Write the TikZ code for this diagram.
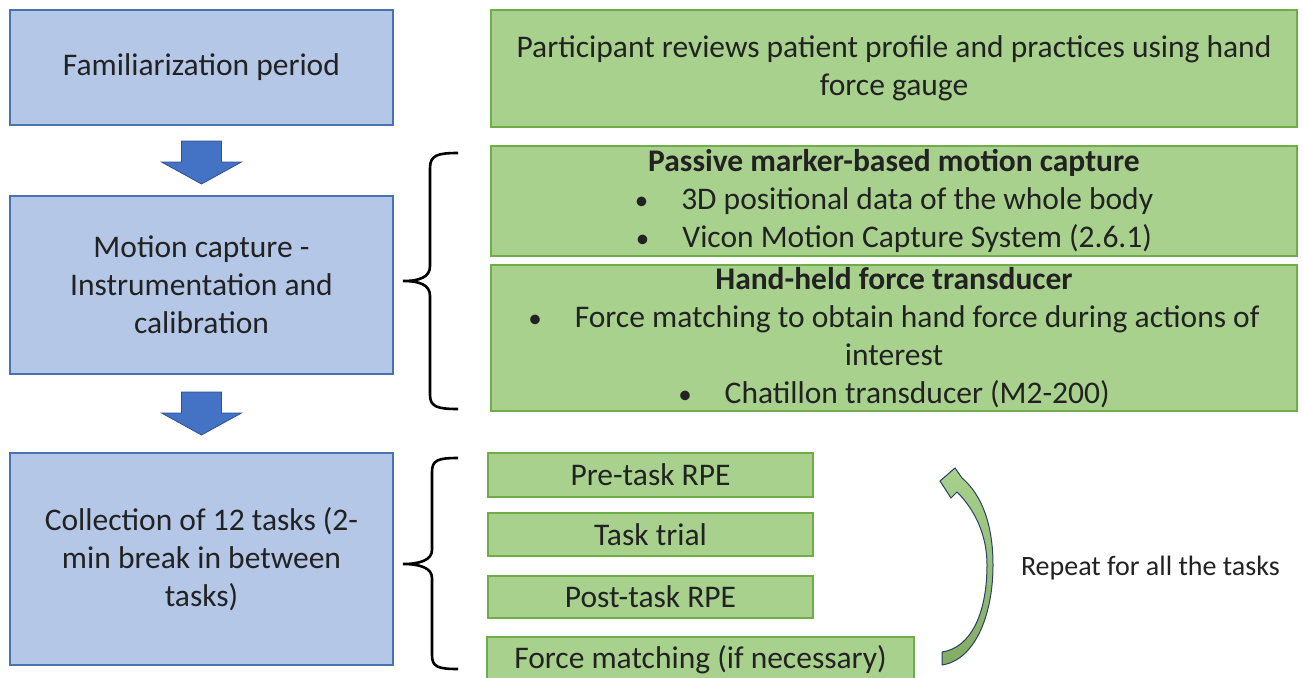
\documentclass[tikz,border=0pt]{standalone}
\usepackage{fontspec}
\setmainfont{Carlito}
\usetikzlibrary{calc}
\definecolor{bluefill}{HTML}{B4C7E7}
\definecolor{blueline}{HTML}{4A72B0}
\definecolor{arrowblue}{HTML}{4472C4}
\definecolor{arrowline}{HTML}{2F528F}
\definecolor{greenfill}{HTML}{A9D18E}
\definecolor{greenline}{HTML}{71AD47}
\definecolor{greendark}{HTML}{82AB64}
\definecolor{curveline}{HTML}{2B3F66}
\definecolor{txt}{HTML}{222222}
\newcommand{\smbul}{{\fontsize{27}{27}\selectfont\textbullet}}
\begin{document}
\begin{tikzpicture}[x=1pt,y=-1pt,
  every node/.style={inner sep=0pt, outer sep=0pt, text=txt},
  bluebox/.style={draw=blueline, fill=bluefill, line width=1.2pt, minimum width=383pt, align=center, font=\fontsize{31.5}{38}\selectfont},
  greenbox/.style={draw=greenline, fill=greenfill, line width=1.2pt, align=center, font=\fontsize{31.5}{38}\selectfont},
  taskbox/.style={greenbox, font=\fontsize{31.5}{36}\selectfont},
  blockarrow/.style={fill=arrowblue, draw=arrowline, line width=0.8pt, line join=miter},
  bracepath/.style={draw=black, line width=2.6pt},
  curvearrow/.style={draw=curveline, line width=1pt, top color=greenfill, bottom color=greendark}
]
\useasboundingbox (0,0) rectangle (1303,677);

% left column
\node[bluebox, minimum height=115pt] (b1) at (201.5,67.5) {Familiarization period};
\node[bluebox, minimum height=178pt] (b2) at (201.5,285) {Motion capture -\\Instrumentation and\\calibration};
\node[bluebox, minimum height=212pt] (b3) at (201.5,559) {Collection of 12 tasks (2-\\min break in between\\tasks)};

% block arrows
\draw[blockarrow] ($(b1.south)+(-20,16)$) -- ++(0,21) -- ++(-20,0) -- ++(40,22) -- ++(40,-22) -- ++(-20,0) -- ++(0,-21) -- cycle;
\draw[blockarrow] ($(b2.south)+(-20,18)$) -- ++(0,21) -- ++(-20,0) -- ++(40,22) -- ++(40,-22) -- ++(-20,0) -- ++(0,-21) -- cycle;

% right column
\node[greenbox, minimum width=806pt, minimum height=117pt] (g1) at (894,68.5) {Participant reviews patient profile and practices using hand\\force gauge};
\node[greenbox, minimum width=806pt, minimum height=110pt] (g2) at (894,201) {\textbf{Passive marker-based motion capture}\\\smbul\hspace{33pt}3D positional data of the whole body\\\smbul\hspace{33pt}Vicon Motion Capture System (2.6.1)};
\node[greenbox, minimum width=806pt, minimum height=146pt] (g3) at (894,338) {\textbf{Hand-held force transducer}\\\smbul\hspace{33pt}Force matching to obtain hand force during actions of\\interest\\\smbul\hspace{33pt}Chatillon transducer (M2-200)};

% task boxes
\node[taskbox, minimum width=325pt, minimum height=44pt] (s1) at (650.5,475) {Pre-task RPE};
\node[taskbox, minimum width=325pt, minimum height=43pt] (s2) at (650.5,534.5) {Task trial};
\node[taskbox, minimum width=325pt, minimum height=42pt] (s3) at (650.5,597) {Post-task RPE};
\node[taskbox, minimum width=427pt, minimum height=46pt, anchor=north west] (s4) at (487,637) {Force matching (if necessary)};

% braces
\draw[bracepath] (458,153) .. controls (438,153) and (430,155) .. (430,168) -- (430,266) .. controls (430,277) and (420,281) .. (403,281) .. controls (420,281) and (430,285) .. (430,296) -- (430,395) .. controls (430,407) and (438,409) .. (458,409);
\draw[bracepath] (458,458) .. controls (438,458) and (432,460) .. (432,472) -- (432,550) .. controls (432,560) and (420,564) .. (403,564) .. controls (420,564) and (432,568) .. (432,578) -- (432,655) .. controls (432,667) and (438,669) .. (458,669);

% curved arrow
\path[curvearrow] (942,665) .. controls (975,660) and (993,615) .. (993,565) .. controls (993,525) and (982,495) .. (962,478) -- (955,468) -- (940,481) -- (951,498) -- (957,492) .. controls (975,510) and (987,535) .. (987,565) .. controls (987,615) and (970,648) .. (942,652) -- cycle;

\node[font=\fontsize{28}{33}\selectfont, anchor=west] (rep) at (1021,568) {Repeat for all the tasks};
\end{tikzpicture}
\end{document}
